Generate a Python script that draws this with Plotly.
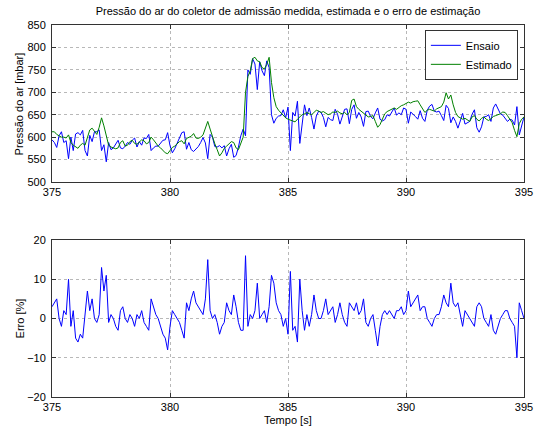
import numpy as np
import plotly.graph_objects as go
from plotly.subplots import make_subplots

# Time axis: 375 s to 395 s in 0.1 s steps
t_start, t_step, n_pts = 375.0, 0.1, 201
tempo = np.round(t_start + t_step * np.arange(n_pts), 1)

# Measured manifold air pressure [mbar]
ensaio = [
    594, 588, 577, 603, 612, 588, 592, 552, 600, 570,
    607, 610, 605, 615, 570, 558, 604, 590, 612, 612,
    616, 570, 583, 545, 588, 572, 576, 586, 593, 576,
    574, 580, 588, 584, 593, 598, 578, 590, 582, 598,
    597, 606, 570, 576, 580, 580, 588, 593, 594, 610,
    581, 565, 574, 585, 596, 610, 612, 573, 588, 572,
    568, 574, 579, 588, 599, 587, 552, 606, 600, 579,
    578, 581, 576, 581, 558, 574, 584, 555, 559, 578,
    603, 618, 603, 750, 740, 775, 763, 706, 768, 748,
    737, 770, 755, 650, 631, 642, 647, 648, 661, 643,
    667, 570, 655, 647, 680, 586, 637, 672, 648, 665,
    644, 618, 647, 658, 655, 644, 623, 644, 639, 637,
    662, 651, 629, 646, 662, 663, 630, 662, 672, 642,
    655, 645, 624, 657, 658, 646, 641, 654, 665, 640,
    636, 639, 650, 647, 656, 665, 649, 654, 650, 665,
    662, 631, 656, 652, 646, 640, 659, 642, 635, 660,
    669, 673, 658, 656, 658, 648, 637, 671, 664, 632,
    645, 635, 620, 636, 653, 629, 632, 635, 651, 661,
    621, 611, 623, 645, 646, 650, 635, 665, 674, 663,
    652, 649, 642, 635, 640, 638, 627, 668, 605, 627,
    645,
]

# Estimated manifold air pressure [mbar]
estimado = [
    612, 612, 606, 603, 600, 600, 598, 605, 588, 582,
    578, 575, 582, 586, 582, 600, 616, 620, 612, 606,
    622, 643, 625, 600, 582, 578, 576, 574, 576, 588,
    592, 580, 582, 590, 593, 586, 584, 590, 594, 592,
    585, 588, 600, 594, 586, 580, 576, 570, 565, 563,
    570, 577, 580, 585, 590, 592, 585, 597, 600, 602,
    608, 598, 597, 600, 605, 618, 635, 618, 600, 585,
    572, 558, 565, 575, 580, 586, 590, 588, 576, 572,
    585, 600, 700, 735, 748, 775, 778, 770, 768, 755,
    752, 762, 778, 722, 688, 668, 660, 654, 648, 643,
    640, 638, 636, 634, 640, 645, 650, 652, 655, 652,
    650, 655, 660, 658, 655, 657, 654, 650, 652, 656,
    655, 658, 654, 652, 655, 650, 655, 682, 685, 668,
    662, 658, 655, 650, 645, 646, 648, 635, 622, 628,
    642, 652, 657, 660, 663, 665, 662, 667, 670, 672,
    675, 678, 676, 679, 680, 681, 672, 662, 655, 660,
    662, 660, 658, 663, 665, 668, 678, 699, 685, 694,
    672, 655, 646, 642, 640, 642, 638, 635, 645, 648,
    640, 636, 642, 645, 640, 637, 641, 646, 648, 650,
    652, 656, 655, 648, 640, 632, 615, 601, 630, 640,
    645,
]

# Estimation error [%]
erro = [
    3, 4, 5, 0, -2, 2, 1, 10, -2, 2,
    -5, -6, -4, -5, 2, 7, 2, 5, 0, -1,
    1, 13, 7, 11, -1, 1, 0, -2, -3, 2,
    3, 0, -1, 1, 0, -2, 1, 0, 2, -1,
    -2, -3, 5, 3, 1, 0, -2, -4, -5, -8,
    -2, 2, 1, 0, -1, -3, -5, 4, 2, 5,
    7, 4, 3, 2, 1, 5, 15, 2, 0, 1,
    -1, -4, -2, -1, 4, 2, 1, 6, 3, -1,
    -3, -3, 16, -2, 1, 0, 2, 9, 0, 1,
    2, -1, 3, 11, 9, 4, 2, 1, -2, 0,
    -4, 12, -3, -2, -6, 10, 2, -3, 1, -2,
    1, 6, 2, 0, 0, 2, 5, 1, 2, 3,
    -1, 1, 4, 1, -1, -2, 4, 3, 2, 4,
    1, 2, 5, -1, -2, 0, 1, -3, -7, -2,
    1, 2, 1, 2, 1, 0, 2, 2, 3, 1,
    2, 7, 3, 4, 5, 6, 2, 3, 3, 0,
    -1, -2, 0, 1, 1, 3, 6, 4, 3, 9,
    4, 3, 4, 1, -2, 2, 1, 0, -1, -2,
    3, 4, 3, 0, -1, -2, 1, -3, -4, -2,
    0, 1, 2, 2, 0, -1, -2, -10, 4, 2,
    0,
]

titulo = "Pressão do ar do coletor de admissão medida, estimada e o erro de estimação"
x_ticks = [375, 380, 385, 390, 395]
p_ticks = [500, 550, 600, 650, 700, 750, 800, 850]
e_ticks = [-20, -10, 0, 10, 20]

font_family = "Liberation Sans, Arial, sans-serif"
frame = "#333333"
grid = "#b8b8b8"

fig = make_subplots(rows=2, cols=1, vertical_spacing=0.156)

fig.add_trace(go.Scatter(x=tempo, y=ensaio, mode="lines", name="Ensaio",
                         line=dict(color="#0000ff", width=1)), row=1, col=1)
fig.add_trace(go.Scatter(x=tempo, y=estimado, mode="lines", name="Estimado",
                         line=dict(color="#008000", width=1)), row=1, col=1)
fig.add_trace(go.Scatter(x=tempo, y=erro, mode="lines", showlegend=False,
                         line=dict(color="#0000ff", width=1)), row=2, col=1)

axis_style = dict(
    showline=True, linecolor=frame, linewidth=1, mirror="ticks",
    ticks="inside", ticklen=4, tickcolor=frame, automargin=False,
    showgrid=True, gridcolor=grid, griddash="dot", gridwidth=1,
    zeroline=False, tickfont=dict(size=11, color="#000000", family=font_family),
)

for r in (1, 2):
    fig.update_xaxes(range=[375, 395], tickvals=x_ticks, ticklabelstandoff=0,
                     row=r, col=1, **axis_style)
fig.update_yaxes(range=[500, 850], tickvals=p_ticks, ticklabelstandoff=3,
                 row=1, col=1, **axis_style)
fig.update_yaxes(range=[-20, 20], tickvals=e_ticks, ticklabelstandoff=3,
                 row=2, col=1, **axis_style)

fig.update_layout(
    width=535, height=428,
    margin=dict(l=52, r=11, t=25, b=31),
    paper_bgcolor="white", plot_bgcolor="white",
    font=dict(family=font_family, size=11, color="#000000"),
    title=dict(text=titulo, x=0.5, xref="paper", y=1 - 11 / 428, yref="container",
               yanchor="middle", font=dict(size=11), automargin=False),
    legend=dict(x=0.987, y=0.987, xanchor="right", yanchor="top",
                bgcolor="white", bordercolor=frame, borderwidth=1,
                font=dict(size=11), tracegroupgap=0, itemwidth=30,
                traceorder="normal"),
    annotations=[
        dict(text="Pressão do ar [mbar]", textangle=-90, xref="paper", yref="y domain",
             x=-0.068, y=0.5, xanchor="center", yanchor="middle",
             showarrow=False, font=dict(size=11)),
        dict(text="Erro [%]", textangle=-90, xref="paper", yref="y2 domain",
             x=-0.068, y=0.5, xanchor="center", yanchor="middle",
             showarrow=False, font=dict(size=11)),
        dict(text="Tempo [s]", xref="paper", yref="paper", x=0.5, y=0,
             yshift=-15, xanchor="center", yanchor="top",
             showarrow=False, font=dict(size=11)),
    ],
)

fig.write_html("out.html")
